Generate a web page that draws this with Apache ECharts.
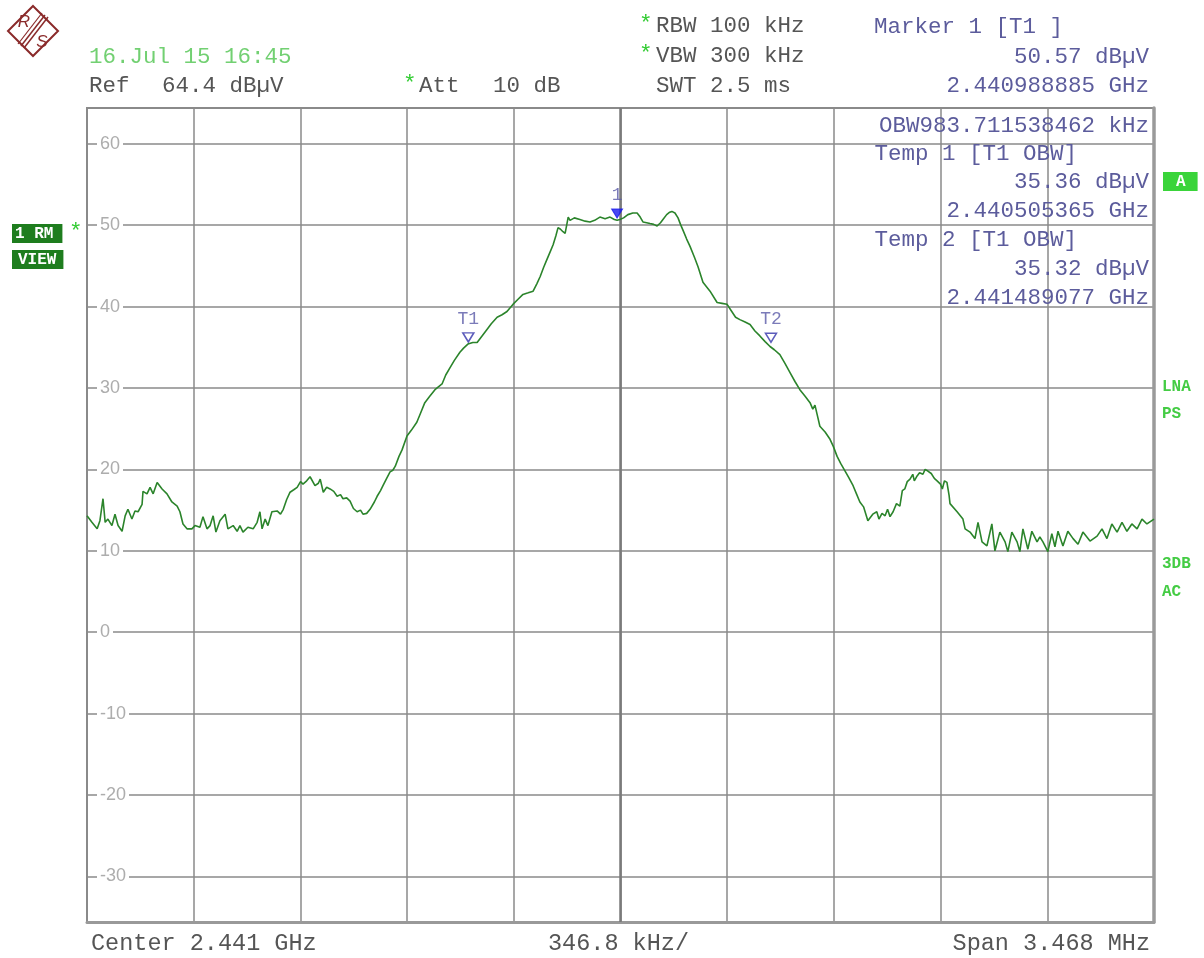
<!DOCTYPE html>
<html>
<head>
<meta charset="utf-8">
<script src="https://cdn.jsdelivr.net/npm/echarts@6/dist/echarts.min.js"></script>
<style>
html,body{margin:0;padding:0;background:#fff;}
#chart{width:1204px;height:958px;}
</style>
</head>
<body>
<div id="chart"></div>
<script>
// Frequency offset from centre 2.441 GHz (kHz) and level (dBµV) of the trace
const traceFreq = [-1734,-1718,-1701,-1692,-1682,-1675,-1666,-1653,-1643,-1633,-1620,-1610,-1601,-1588,-1578,-1568,-1555,-1552,-1539,-1529,-1519,-1506,-1490,-1474,-1458,-1441,-1432,-1422,-1409,-1393,-1383,-1367,-1357,-1344,-1334,-1324,-1315,-1302,-1285,-1276,-1259,-1246,-1237,-1227,-1211,-1194,-1181,-1172,-1165,-1155,-1146,-1133,-1116,-1105,-1096,-1085,-1074,-1062,-1051,-1040,-1032,-1020,-1009,-993,-982,-976,-966,-955,-944,-932,-921,-910,-902,-890,-879,-868,-856,-845,-837,-825,-814,-800,-791,-780,-772,-760,-749,-740,-732,-720,-710,
-694,-680,-662,-650,-636,-620,-603,-580,-568,-554,-540,-522,-510,-496,-480,-466,-450,-434,-420,-401,-385,-369,-349,-333,-317,-300,-284,-272,-261,-250,-239,-229,-219,-210,-203,-195,-187,-180,-174,-170,-164,-150,-132,-115,-99,-84,-67,-50,-34,-20,-11,-2,10,24,40,54,64,73,85,96,108,119,130,138,150,160,167,177,187,195,203,215,226,240,252,268,291,314,330,346,360,374,388,405,421,437,453,470,486,500,518,535,551,567,583,600,616,625,632,640,648,665,681,692,704,716,730,742,756,767,778,790,804,812,820,833,840,850,860,868,876,886,897,908,916,924,932,941,950,955,964,972,983,990,999,1010,1020,1029,1040,1046,1053,1061,1068,
1071,1094,1113,1120,1136,1152,1162,1175,1191,1207,1217,1233,1250,1259,1272,1289,1298,1308,1324,1337,1354,1363,1373,1389,1402,1412,1422,1438,1454,1471,1487,1503,1526,1549,1565,1581,1597,1614,1630,1646,1662,1679,1695,1711,1734];
const traceLevel = [14.3,13.5,12.7,13.7,16.4,13.5,13.9,13.1,14.5,13.1,12.4,14.3,15.1,13.9,14.9,14.8,15.7,17.3,17.0,17.8,17.0,18.4,17.6,17.0,16.0,15.5,14.8,13.3,12.7,12.7,13.1,12.9,14.2,12.7,13.1,14.3,12.3,13.7,14.5,12.7,13.1,12.4,13.1,12.3,12.9,12.7,13.5,14.8,12.7,13.9,13.1,14.8,14.9,14.5,15.1,16.3,17.2,17.5,17.8,18.5,18.2,18.6,19.1,18.0,18.3,18.8,17.2,17.8,17.6,17.3,16.7,16.9,16.4,16.5,16.1,15.2,14.8,15.0,14.5,14.6,15.1,16.0,16.7,17.4,18.0,18.9,19.7,19.9,20.4,21.6,22.4,
24.1,24.8,25.8,26.9,28.2,29.0,29.8,30.5,31.6,32.5,33.4,34.4,34.9,35.4,35.6,35.6,36.4,37.2,37.9,38.7,39.0,39.4,40.3,40.9,41.5,41.7,41.9,42.8,43.7,44.8,45.8,46.7,47.6,48.7,49.7,49.5,49.2,49.0,49.2,51.0,50.6,50.9,50.7,50.5,50.4,50.6,51.0,50.8,51.0,50.7,50.6,50.7,50.9,51.3,51.5,51.5,51.0,50.4,50.3,50.2,50.1,49.9,50.3,50.7,51.3,51.6,51.7,51.5,50.9,50.1,49.4,48.3,47.4,46.1,44.9,43.0,41.9,40.5,40.4,40.3,39.5,38.7,38.4,38.1,37.8,37.0,36.4,35.7,35.1,34.7,34.1,33.0,31.9,30.8,29.8,29.0,28.2,27.4,27.9,26.6,25.3,24.6,23.7,22.8,21.6,20.7,19.8,19.0,18.0,17.0,16.0,15.4,13.7,14.1,14.5,14.8,13.9,14.6,14.3,15.1,14.2,14.8,15.8,15.5,17.4,17.6,18.5,18.8,19.4,18.6,19.2,19.6,19.4,20.0,19.8,19.5,18.9,18.6,18.2,17.6,18.6,18.4,16.8,
15.8,14.8,13.9,12.7,12.3,11.5,13.5,11.1,10.6,13.3,10.0,12.3,11.1,9.9,12.3,11.1,9.9,12.7,10.2,12.4,11.1,11.7,11.1,9.9,12.1,10.5,12.4,10.6,12.4,11.5,10.8,12.3,11.2,11.8,12.7,11.5,13.3,12.3,13.5,12.4,13.3,12.7,13.9,13.3,13.9];

// Markers
const markerNames  = ['1', 'T1', 'T2'];
const markerFreq   = [-11.115, -494.635, 489.077];   // kHz from 2.441 GHz
const markerLevel  = [50.57, 35.36, 35.32];          // dBµV
const markerFilled = [true, false, false];

// Axis ticks
const xTicks = [-1734, -1387.2, -1040.4, -693.6, -346.8, 0, 346.8, 693.6, 1040.4, 1387.2, 1734];
const yTicks = [-30, -20, -10, 0, 10, 20, 30, 40, 50, 60];
const xMin = -1734, xMax = 1734;
const yMin = -35.6, yMax = 64.4;

const traceData = traceFreq.map((f, i) => [f, traceLevel[i]]);
const markerData = markerNames.map((n, i) => ({
  value: [markerFreq[i], markerLevel[i]],
  name: n,
  itemStyle: markerFilled[i]
    ? { color: '#1a1aee', borderColor: '#1a1aee', borderWidth: 1 }
    : { color: 'rgba(255,255,255,0)', borderColor: '#3333aa', borderWidth: 1.5 }
}));

const MONO = '"Liberation Mono", "DejaVu Sans Mono", monospace';
const DARK = '#555555';
const BLUE = '#5c5c9c';
const GREEN = '#72d072';
const STAR = '#33cc33';
const FS = 22.5;

function txt(text, x, y, fill, align, size) {
  return {
    type: 'text', x: x, y: y, z: 100,
    style: { text: text, font: (size || FS) + 'px ' + MONO, fill: fill, align: align || 'left', verticalAlign: 'middle' }
  };
}
function tag(text, x, y, fill, bg, pad) {
  return { type: 'text', z: 100, x: x, y: y,
    style: { text: text, font: 'bold 16px ' + MONO, fill: fill, backgroundColor: bg, padding: pad } };
}

const chart = echarts.init(document.getElementById('chart'), null, { renderer: 'canvas' });

const LOGO = '#8a2a2a';
const graphics = [
  // R&S logo
  { type: 'polygon', z: 100, shape: { points: [[33, 6], [58, 31], [33, 56], [8, 31]] }, style: { fill: '#fff', stroke: LOGO, lineWidth: 2 } },
  { type: 'line', z: 101, shape: { x1: 45, y1: 15, x2: 21, y2: 46 }, style: { stroke: LOGO, lineWidth: 1.5 } },
  { type: 'line', z: 101, shape: { x1: 48, y1: 17, x2: 24, y2: 48 }, style: { stroke: LOGO, lineWidth: 1.5 } },
  { type: 'line', z: 101, shape: { x1: 42, y1: 13, x2: 18, y2: 44 }, style: { stroke: LOGO, lineWidth: 1.2 } },
  { type: 'text', z: 102, x: 24, y: 22, style: { text: 'R', font: 'italic 17px "Liberation Sans", sans-serif', fill: LOGO, align: 'center', verticalAlign: 'middle' } },
  { type: 'text', z: 102, x: 42, y: 42, style: { text: 'S', font: 'italic 17px "Liberation Sans", sans-serif', fill: LOGO, align: 'center', verticalAlign: 'middle' } },

  // header
  txt('16.Jul 15 16:45', 89, 57, GREEN),
  txt('Ref', 89, 86, DARK),
  txt('64.4 dBµV', 162, 86, DARK),
  txt('*', 403, 84, STAR),
  txt('Att', 419, 86, DARK),
  txt('10 dB', 493, 86, DARK),
  txt('*', 639, 24, STAR),
  txt('RBW 100 kHz', 656, 26, DARK),
  txt('*', 639, 54, STAR),
  txt('VBW 300 kHz', 656, 56, DARK),
  txt('SWT 2.5 ms', 656, 86, DARK),
  txt('Marker 1 [T1 ]', 874, 27, BLUE),
  txt('50.57 dBµV', 1149, 57, BLUE, 'right'),
  txt('2.440988885 GHz', 1149, 86, BLUE, 'right'),

  // info box inside the diagram
  txt('OBW983.711538462 kHz', 1149, 126, BLUE, 'right'),
  txt('Temp 1 [T1 OBW]', 1077, 154, BLUE, 'right'),
  txt('35.36 dBµV', 1149, 182, BLUE, 'right'),
  txt('2.440505365 GHz', 1149, 211, BLUE, 'right'),
  txt('Temp 2 [T1 OBW]', 1077, 240, BLUE, 'right'),
  txt('35.32 dBµV', 1149, 269, BLUE, 'right'),
  txt('2.441489077 GHz', 1149, 298, BLUE, 'right'),

  // left trace labels
  tag('1 RM', 12, 224, '#ffffff', '#1e7d1e', [2, 9, 1, 3]),
  txt('*', 69, 232, STAR),
  tag('VIEW', 12, 250, '#ffffff', '#1e7d1e', [2, 7, 1, 6]),

  // right side labels
  tag('A', 1163, 172, '#ffffff', '#3ad43a', [2, 12, 1, 13]),
  { type: 'text', z: 100, x: 1162, y: 387, style: { text: 'LNA', font: 'bold 16px ' + MONO, fill: '#44cc44', verticalAlign: 'middle' } },
  { type: 'text', z: 100, x: 1162, y: 414, style: { text: 'PS', font: 'bold 16px ' + MONO, fill: '#44cc44', verticalAlign: 'middle' } },
  { type: 'text', z: 100, x: 1162, y: 564, style: { text: '3DB', font: 'bold 16px ' + MONO, fill: '#44cc44', verticalAlign: 'middle' } },
  { type: 'text', z: 100, x: 1162, y: 592, style: { text: 'AC', font: 'bold 16px ' + MONO, fill: '#44cc44', verticalAlign: 'middle' } },

  // footer
  txt('Center 2.441 GHz', 91, 944, DARK, 'left', 23.5),
  txt('346.8 kHz/', 548, 944, DARK, 'left', 23.5),
  txt('Span 3.468 MHz', 1150, 944, DARK, 'right', 23.5)
];

const option = {
  backgroundColor: '#ffffff',
  animation: false,
  grid: { left: 87, right: 50, top: 108, bottom: 36, show: true, borderColor: '#8a8a8a', borderWidth: 2, backgroundColor: 'transparent' },
  xAxis: {
    type: 'value', min: xMin, max: xMax,
    axisLine: { show: true, onZero: false, lineStyle: { color: '#999', width: 3 } },
    axisTick: { show: false, customValues: xTicks },
    axisLabel: { show: false, customValues: xTicks },
    splitLine: { show: true, lineStyle: { color: '#8a8a8a', width: 1.5 } }
  },
  yAxis: [{
    type: 'value', min: yMin, max: yMax, position: 'left',
    axisLine: { show: true, onZero: false, lineStyle: { color: '#8a8a8a', width: 2 } },
    axisTick: { show: false, customValues: yTicks },
    axisLabel: {
      customValues: yTicks, inside: true, margin: 10, color: '#adadad',
      fontFamily: '"Liberation Sans", sans-serif', fontSize: 18,
      backgroundColor: '#ffffff', padding: [0, 3, 0, 3]
    },
    splitLine: { show: true, lineStyle: { color: '#8a8a8a', width: 1.5 } }
  }, {
    type: 'value', min: yMin, max: yMax, position: 'right',
    axisLine: { show: true, onZero: false, lineStyle: { color: '#9a9a9a', width: 3.5 } },
    axisTick: { show: false }, axisLabel: { show: false }, splitLine: { show: false }
  }],
  graphic: graphics,
  series: [{
    type: 'line', data: traceData, showSymbol: false, symbol: 'none',
    lineStyle: { color: '#2b842b', width: 1.6 },
    z: 5,
    markLine: {
      silent: true, symbol: 'none', label: { show: false },
      lineStyle: { color: '#7a7a7a', width: 2.5, type: 'solid' },
      data: [{ xAxis: 0 }]
    }
  }, {
    type: 'scatter', data: markerData, z: 10,
    symbol: 'triangle', symbolRotate: 180, symbolSize: [11, 9], symbolOffset: [0, -7],
    label: {
      show: true, position: 'top', distance: 4,
      formatter: p => p.name, color: '#5a5aa8',
      fontFamily: MONO, fontSize: 18
    }
  }]
};
chart.setOption(option);
</script>
</body>
</html>
